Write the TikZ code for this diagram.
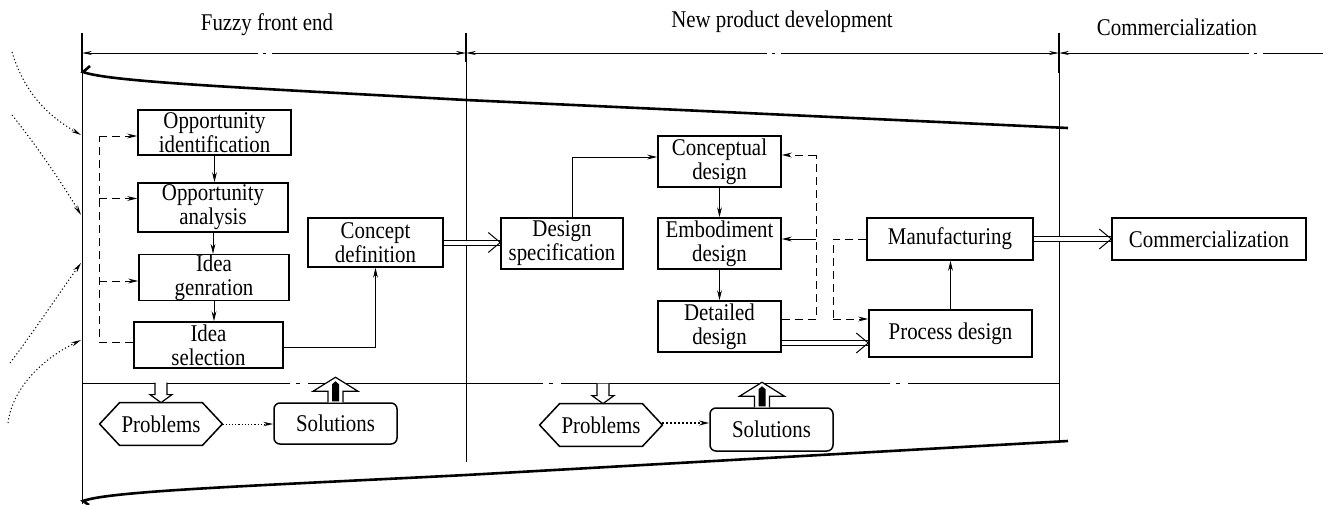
\documentclass[tikz,border=0pt]{standalone}
\usepackage{fontspec}
\setmainfont{Liberation Serif}[FakeStretch=0.87]
\usetikzlibrary{arrows.meta,calc}
\newcommand{\dblarrow}[2]{\draw[dblline] (#1) -- (#2); \draw[conn] ($(#2)+(-12,-10)$) -- (#2) -- ($(#2)+(-12,10)$);}
\begin{document}
\begin{tikzpicture}[x=0.5pt,y=-0.5pt,
  font=\fontsize{12}{12}\selectfont,
  box/.style={draw, line width=0.75pt, align=center, inner sep=0pt},
  conn/.style={line width=0.5pt},
  tip/.style={-{Stealth[length=5pt,width=2.4pt]}},
  dimL/.style={{Stealth[length=5pt,width=2pt]}-},
  dimR/.style={-{Stealth[length=5pt,width=2pt]}},
  dsh/.style={conn, dash pattern=on 4pt off 2.5pt},
  dblline/.style={double, double distance=2pt, line width=0.5pt},
  dotcurve/.style={line width=0.5pt, dash pattern=on 0.6pt off 1.2pt, -{Stealth[length=5pt,width=2.2pt]}},
  thickcurve/.style={line width=1.3pt},
  downarr/.pic={\draw[line width=0.6pt, fill=white] (-6,-20) -- (-6,-8) -- (-11,-8) -- (0,0) -- (11,-8) -- (6,-8) -- (6,-20);},
  uparr/.pic={\draw[line width=0.6pt, fill=white] (-7.5,0) -- (-7.5,-11) -- (-22.5,-11) -- (0,-25) -- (22.5,-11) -- (7.5,-11) -- (7.5,0);
              \fill (-3.5,-1) -- (-3.5,-18) -- (0,-21) -- (3.5,-18) -- (3.5,-1) -- cycle;}
]
\useasboundingbox (0,0) rectangle (1323,504);

% ---------- headers ----------
\node (h1) at (267,25) {Fuzzy front end};
\node (h2) at (782,22) {New product development};
\node (h3) at (1177,27) {Commercialization};

% ---------- phase boundaries ----------
\coordinate (v1t) at (82,33);   \coordinate (v1b) at (82,504);
\coordinate (v2t) at (466,33);  \coordinate (v2b) at (466,462);
\coordinate (v3t) at (1059,33); \coordinate (v3b) at (1059,440);
\draw[conn] (v1t) -- (v1b);
\draw[conn] (v2t) -- (v2b);
\draw[conn] (v3t) -- (v3b);
\draw[line width=0.9pt] (v1t) -- (82,73);
\draw[line width=0.9pt] (v2t) -- (466,62);
\draw[line width=0.9pt] (v3t) -- (1059,73);

% dimension line
\draw[conn,dimL] (82,53) -- (258,53);
\draw[conn] (263,53) -- (266,53);
\draw[conn,dimR] (272,53) -- (466,53);
\draw[conn,dimL] (466,53) -- (767,53);
\draw[conn] (772,53) -- (775,53);
\draw[conn,dimR] (781,53) -- (1059,53);
\draw[conn,dimL] (1059,53) -- (1249,53);
\draw[conn] (1254,53) -- (1257,53);
\draw[conn] (1263,53) -- (1323,53);

% horizontal divider
\draw[conn] (82,383) -- (290,383);
\draw[conn] (296,383) -- (300,383);
\draw[conn] (308,383) -- (543,383);
\draw[conn] (549,383) -- (553,383);
\draw[conn] (561,383) -- (890,383);
\draw[conn] (896,383) -- (900,383);
\draw[conn] (908,383) -- (1059,383);

% funnel curves
\draw[thickcurve] (90,66) -- (83,72) .. controls (110,82) and (250,88) .. (466,100) -- (1068,128);
\draw[thickcurve] (89,505) -- (83,501) .. controls (110,491) and (250,486) .. (466,475) -- (1068,441);

% incoming dotted curves
\draw[dotcurve] (12,52) .. controls (25,95) and (50,117) .. (81,135);
\draw[dotcurve] (12,115) .. controls (40,150) and (65,188) .. (81,215);
\draw[dotcurve] (10,363) .. controls (35,330) and (60,292) .. (81,263);
\draw[dotcurve] (8,423) .. controls (12,390) and (40,360) .. (81,340);

% ---------- fuzzy front end boxes ----------
\node[box, minimum width=76.5pt, minimum height=22.5pt] (oi) at (214.5,132.5) {Opportunity\\identification};
\node[box, minimum width=75pt, minimum height=24.5pt] (oa) at (213,207.5) {Opportunity\\analysis};
\node[box, minimum width=75pt, minimum height=22.5pt] (ig) at (214,277.5) {Idea\\genration};
\node[box, minimum width=74.5pt, minimum height=23pt] (is) at (208.5,345) {Idea\\selection};
\node[box, minimum width=67.5pt, minimum height=24.5pt] (cd) at (375.5,242.5) {Concept\\definition};

\draw[conn,tip] (oi.south) -- (oi.south|-oa.north);
\draw[conn,tip] (oa.south) -- (oa.south|-ig.north);
\draw[conn,tip] (ig.south) -- (ig.south|-is.north);
\draw[conn,tip] ($(is.east)+(0,2)$) -| (cd.south);

\coordinate (fbL) at (99,0);
\draw[dsh] ($(is.west)+(0,-3)$) -| ($(fbL|-oi.west)+(0,3.5)$);
\draw[dsh,tip] ($(fbL|-oi.west)+(0,3.5)$) -- ($(oi.west)+(0,3.5)$);
\draw[dsh,tip] ($(fbL|-oa.west)+(0,-9)$) -- ($(oa.west)+(0,-9)$);
\draw[dsh,tip] ($(fbL|-ig.west)+(0,3.5)$) -- ($(ig.west)+(0,3.5)$);

% ---------- new product development boxes ----------
\node[box, minimum width=61pt, minimum height=25.5pt] (ds) at (562,243.5) {Design\\specification};
\node[box, minimum width=61.5pt, minimum height=25.5pt] (cpd) at (719.5,161.5) {Conceptual\\design};
\node[box, minimum width=61.5pt, minimum height=25.5pt] (ed) at (719.5,243.5) {Embodiment\\design};
\node[box, minimum width=61.5pt, minimum height=25.5pt] (dd) at (719.5,326.5) {Detailed\\design};
\node[box, minimum width=83pt, minimum height=21pt] (mf) at (950,239) {Manufacturing};
\node[box, minimum width=81.5pt, minimum height=23.5pt] (pd) at (950.5,333.5) {Process design};
\node[box, minimum width=97pt, minimum height=21pt] (cm) at (1209,239) {Commercialization};

\dblarrow{cd.east}{cd.east-|ds.west}
\draw[conn,tip] ($(ds.north)+(10,0)$) |- ($(cpd.west)+(0,-4.5)$);
\draw[conn,tip] (cpd.south) -- (cpd.south|-ed.north);
\draw[conn,tip] (ed.south) -- (ed.south|-dd.north);

\coordinate (fbR) at (816,0);
\draw[dsh] ($(dd.east)+(0,-7)$) -| ($(fbR|-cpd.east)+(0,-6.5)$);
\draw[dsh,tip] ($(fbR|-cpd.east)+(0,-6.5)$) -- ($(cpd.east)+(0,-6.5)$);
\draw[conn,tip] ($(fbR|-ed.east)+(0,-4.5)$) -- ($(ed.east)+(0,-4.5)$);

\coordinate (fbM) at (833,0);
\draw[dsh] (mf.west) -| ($(fbM|-pd.west)+(0,-14.5)$);
\draw[dsh,tip] ($(fbM|-pd.west)+(0,-14.5)$) -- ($(pd.west)+(0,-14.5)$);

\coordinate (ddo) at ($(dd.east)+(0,16.5)$);
\dblarrow{ddo}{ddo-|pd.west}
\draw[conn,tip] (pd.north) -- (pd.north|-mf.south);
\dblarrow{mf.east}{mf.east-|cm.west}

% ---------- problems / solutions ----------
\node[minimum width=61pt, minimum height=21pt, inner sep=0pt] (p1) at (161,424) {Problems};
\draw[line width=0.75pt] (p1.west) -- ($(p1.north west)+(20,0)$) -- ($(p1.north east)+(-20,0)$) -- (p1.east) -- ($(p1.south east)+(-20,0)$) -- ($(p1.south west)+(20,0)$) -- cycle;
\node[box, rounded corners=3pt, minimum width=61.5pt, minimum height=20.5pt] (s1) at (335.5,423.5) {Solutions};
\draw[conn, dash pattern=on 0.6pt off 1pt, -{Stealth[length=5pt,width=2.2pt]}] (p1.east) -- (p1.east-|s1.west);
\pic at (p1.north) {downarr};
\pic at (s1.north) {uparr};

\node[minimum width=61pt, minimum height=21pt, inner sep=0pt] (p2) at (601,425) {Problems};
\draw[line width=0.75pt] (p2.west) -- ($(p2.north west)+(20,0)$) -- ($(p2.north east)+(-20,0)$) -- (p2.east) -- ($(p2.south east)+(-20,0)$) -- ($(p2.south west)+(20,0)$) -- cycle;
\node[box, rounded corners=3pt, minimum width=61.5pt, minimum height=21.5pt] (s2) at (771.5,429.5) {Solutions};
\draw[line width=1pt, dash pattern=on 1pt off 1pt, -{Stealth[length=5pt,width=2.4pt]}] ($(p2.east)+(0,-2)$) -- ($(p2.east-|s2.west)+(0,-2)$);
\pic at ($(p2.north)+(2,0)$) {downarr};
\pic at ($(s2.north)+(-9.5,0)$) {uparr};

\end{tikzpicture}
\end{document}
